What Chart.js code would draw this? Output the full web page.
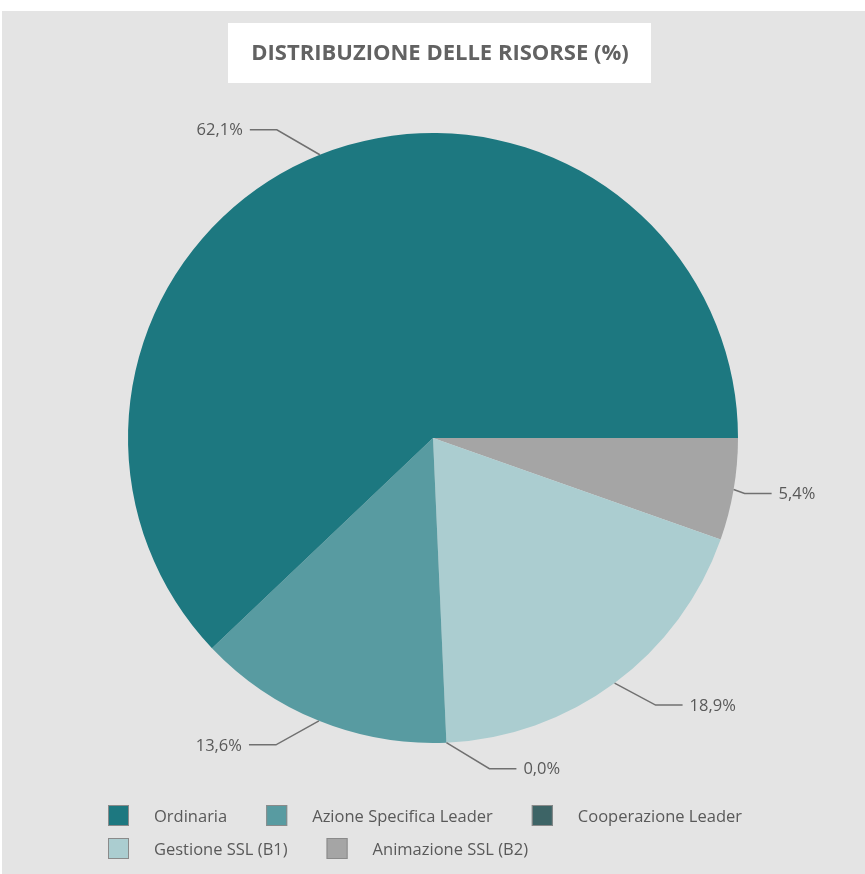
<!DOCTYPE html>
<html>
<head>
<meta charset="utf-8">
<title>Distribuzione delle risorse</title>
<script src="https://cdn.jsdelivr.net/npm/chart.js@4"></script>
<style>
    html, body { margin: 0; padding: 0; background: #ffffff; }
    canvas { display: block; }
</style>
</head>
<body>
<canvas id="pieChart" width="865" height="874"></canvas>
<script>
// Chart data
const categories = ['Ordinaria', 'Azione Specifica Leader', 'Cooperazione Leader', 'Gestione SSL (B1)', 'Animazione SSL (B2)'];
const shares = [62.1, 13.6, 0.0, 18.9, 5.4];
const sliceColors = ['#1d7880', '#589ba1', '#3d6466', '#abcdd0', '#a5a5a5'];
const chartTitle = 'DISTRIBUZIONE DELLE RISORSE (%)';

// Where each leader line bends, relative to the slice edge (same order as categories)
const labelElbows = [[-43, -25], [-43, 24], [43, 26], [41, 22], [11, 4]];

const textColor = '#595959';
const lineColor = '#707070';
const fontFamily = '"Open Sans", "DejaVu Sans", sans-serif';

// Excel draws this pie counterclockwise, so feed the slices reversed to Chart.js
const order = categories.map((c, i) => i).reverse();

function formatPct(v) {
    return v.toFixed(1).replace('.', ',') + '%';
}

// Background panel, title box, leader labels and legend
const decorations = {
    id: 'decorations',
    beforeDraw(chart) {
        const ctx = chart.ctx;
        ctx.save();
        ctx.fillStyle = '#ffffff';
        ctx.fillRect(0, 0, chart.width, chart.height);
        ctx.fillStyle = '#e4e4e4';
        ctx.fillRect(2, 11, 863, 863);
        ctx.fillStyle = '#ffffff';
        ctx.fillRect(228, 23, 423, 60);
        ctx.fillStyle = '#626262';
        ctx.font = 'bold 22px ' + fontFamily;
        ctx.textAlign = 'center';
        ctx.textBaseline = 'middle';
        ctx.fillText(chartTitle, 440, 54);
        ctx.restore();
    },
    afterDraw(chart) {
        const ctx = chart.ctx;
        const arcs = chart.getDatasetMeta(0).data;
        ctx.save();
        ctx.font = '16.5px ' + fontFamily;
        ctx.textBaseline = 'middle';

        // leader lines and value labels
        arcs.forEach((arc, j) => {
            const i = order[j];
            const mid = (arc.startAngle + arc.endAngle) / 2;
            const ex = arc.x + Math.cos(mid) * arc.outerRadius;
            const ey = arc.y + Math.sin(mid) * arc.outerRadius;
            const bx = ex + labelElbows[i][0];
            const by = ey + labelElbows[i][1];
            const dir = labelElbows[i][0] < 0 ? -1 : 1;
            const hx = bx + dir * 27;
            ctx.strokeStyle = lineColor;
            ctx.lineWidth = 1.5;
            ctx.beginPath();
            ctx.moveTo(ex, ey);
            ctx.lineTo(bx, by);
            ctx.lineTo(hx, by);
            ctx.stroke();
            ctx.fillStyle = textColor;
            ctx.textAlign = dir < 0 ? 'right' : 'left';
            ctx.fillText(formatPct(shares[i]), hx + dir * 7, by + 1);
        });

        // legend, in the original category order
        let x = 108, y = 805;
        categories.forEach((name, i) => {
            const w = 21 + 25 + ctx.measureText(name).width;
            if (x + w > 770) {
                x = 108;
                y += 33;
            }
            ctx.fillStyle = sliceColors[i];
            ctx.fillRect(x, y, 21, 21);
            ctx.strokeStyle = '#8a8a8a';
            ctx.lineWidth = 1;
            ctx.strokeRect(x + 0.5, y + 0.5, 20, 20);
            ctx.fillStyle = textColor;
            ctx.textAlign = 'left';
            ctx.fillText(name, x + 46, y + 12);
            x += w + 39;
        });
        ctx.restore();
    }
};

function drawChart() {
    new Chart(document.getElementById('pieChart'), {
        type: 'pie',
        data: {
            labels: order.map(i => categories[i]),
            datasets: [{
                data: order.map(i => shares[i]),
                backgroundColor: order.map(i => sliceColors[i]),
                borderWidth: 0
            }]
        },
        options: {
            responsive: false,
            animation: false,
            rotation: 90,
            layout: {
                padding: { top: 133, bottom: 131, left: 128, right: 127 }
            },
            plugins: {
                legend: { display: false },
                title: { display: false },
                tooltip: { enabled: false }
            }
        },
        plugins: [decorations]
    });
}

Promise.all([
    document.fonts.load('16px "Open Sans"'),
    document.fonts.load('bold 22px "Open Sans"')
]).then(drawChart, drawChart);
</script>
</body>
</html>
